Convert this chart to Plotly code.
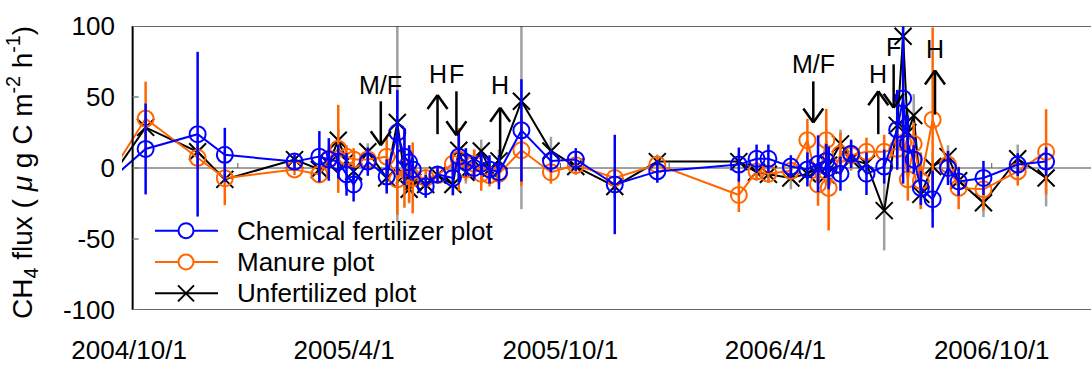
import plotly.graph_objects as go
from datetime import date, timedelta

# ---------------- data ----------------
dates = ["2004-09-17", "2004-10-15", "2004-11-28", "2004-12-21", "2005-02-18", "2005-03-11",
         "2005-03-19", "2005-03-27", "2005-04-03", "2005-04-09", "2005-04-21", "2005-05-07",
         "2005-05-16", "2005-05-22", "2005-05-26", "2005-05-29", "2005-06-09", "2005-06-19",
         "2005-07-02", "2005-07-07", "2005-07-13", "2005-07-20", "2005-07-26", "2005-08-02",
         "2005-08-10", "2005-08-29", "2005-09-23", "2005-10-14", "2005-11-16", "2005-12-22",
         "2006-03-01", "2006-03-16", "2006-03-26", "2006-04-14", "2006-04-28", "2006-05-07",
         "2006-05-14", "2006-05-16", "2006-05-26", "2006-06-04", "2006-06-17", "2006-07-02",
         "2006-07-13", "2006-07-18", "2006-07-22", "2006-07-27", "2006-08-02", "2006-08-12",
         "2006-08-25", "2006-09-03", "2006-09-24", "2006-10-23", "2006-11-16"]

chem = [-7, 13.4, 23.8, 9.3, 4.5, 8, 6, 4.5, -4.5, -11.6, 4.5, -6,
        25, 8, 4, -1, -13, -4.5, -7, 8, 4, 0, 3, -1,
        -3, 26.5, 5, 6, -11.6, -2.4, 2.4, 6.5, 6.5, 1, -1, 3,
        5, 0, -4, 10, -4, 1, 27, 49, 17, 6, -14, -22,
        0, -9.5, -7, 2.4, 4.5]
chem_err = [5, 32, 58, 19, 5, 18, 15, 12, 15, 12, 10, 12,
            30, 20, 12, 8, 8, 6, 12, 18, 10, 8, 8, 10,
            12, 36, 8, 8, 35, 8, 12, 10, 10, 8, 12, 20,
            12, 15, 12, 10, 15, 12, 28, 60, 20, 10, 12, 20,
            12, 10, 12, 8, 10]

manure = [-2, 34.8, 7.2, -7.2, -1, -4.5, 6.5, 13.5, 8, 6, 6, 8,
          -8, 0, -4, -7, -7, -5, 3, 6, -1, 3, -4, -5,
          -4, 12.5, -3, 2, -7, 2.4, -19, -2.4, -4, -2, 19.6, -11.6,
          19.6, -14, 10, 9, 11.4, 11.4, 13.5, 18, -8, 17, -9, 34,
          2.4, -14, -15, -2.4, 11.4]
manure_err = [4, 26, 8, 19, 4, 5, 8, 31, 8, 8, 6, 14,
              25, 28, 20, 25, 6, 4, 8, 22, 8, 10, 12, 8,
              8, 25, 8, 6, 5, 5, 12, 6, 6, 6, 15, 15,
              22, 30, 15, 10, 10, 12, 15, 20, 15, 15, 20, 65,
              10, 15, 15, 10, 30]

unfert = [-5, 28.6, 11.4, -8, 5.9, -1, 3, 19.6, 5, -2.4, 11.4, -7,
          32, -5, -15, -10, -11.6, -5, -11.6, 12.5, -3, 5, 12, -1,
          5, 47, 12, 1, -13, 4.5, 4.5, -3, -4.5, -7, -4, 0,
          -5, 2, 17, 6, 3, -30, 30, 92.8, 25, 37, -18.6, 1,
          8, -9, -24.5, 6.5, -7]
unfert_err = [4, 10, 8, 5, 4, 5, 5, 8, 6, 6, 6, 8,
              70, 10, 10, 8, 5, 4, 8, 10, 8, 8, 8, 8,
              8, 76, 10, 6, 8, 5, 6, 6, 6, 8, 6, 6,
              6, 6, 10, 8, 8, 28, 20, 20, 15, 15, 10, 10,
              8, 8, 10, 10, 20]

series_names = ["Chemical fertilizer plot", "Manure plot", "Unfertilized plot"]

# field operations (M = manure, F = fertilizer, H = harvest)
event_labels = ["M/F", "H", "F", "H", "M/F", "H", "F", "H"]
event_dates = ["2005-05-02", "2005-06-19", "2005-07-05", "2005-08-11",
               "2006-05-03", "2006-06-27", "2006-07-10", "2006-08-14"]
event_dir = ["down", "up", "down", "up", "down", "up", "down", "up"]
event_top = [47, 51.4, 54, 42.4, 61, 54, 73, 68.6]
event_bottom = [16, 23.8, 23, 8, 32, 23.8, 42.4, 37.6]
event_text_y = [58.3, 66.5, 66.5, 58.3, 73.4, 66.5, 85, 83.8]

xtick_vals = ["2004-10-01", "2005-04-01", "2005-10-01", "2006-04-01", "2006-10-01"]
xtick_text = ["2004/10/1", "2005/4/1", "2005/10/1", "2006/4/1", "2006/10/1"]
ytick_vals = [-100, -50, 0, 50, 100]
ytick_text = ["-100", "-50", "0", "50", "100"]
zero_tick_dates = ["2005-01-01", "2005-04-01", "2005-07-01", "2005-10-01", "2006-01-01",
                   "2006-04-01", "2006-07-01", "2006-10-01"]

# ---------------- styling ----------------
FONT = "Liberation Sans, Arial, sans-serif"
BLUE = "#0000FF"
ORANGE = "#FF6600"
BLACK = "#000000"
GREY = "#A0A0A0"

W, H = 1091, 365
L, R, T, B = 122, 0, 26, 49
plot_w = W - L - R
plot_h = H - T - B


def px_x(px):
    return (px - L) / plot_w


def px_y(py):
    return (H - B - py) / plot_h


# x range: date axis scaled ~1.182 px/day with 2004/10/1 at 128 px
base = date(2004, 10, 1)
ppd = 1.1822
x_start = base + timedelta(days=(L - 128) / ppd)
x_end = base + timedelta(days=(W - R - 128) / ppd)
axis_x = base + timedelta(days=(132 - 128) / ppd)   # where the y axis line sits
axis_xs = axis_x.isoformat()

fig = go.Figure()

styles = {
    series_names[0]: dict(color=BLUE, ecolor=BLUE, symbol="circle-open", size=16),
    series_names[1]: dict(color=ORANGE, ecolor=ORANGE, symbol="circle-open", size=16),
    series_names[2]: dict(color=BLACK, ecolor=GREY, symbol="x-thin-open", size=17),
}
series_vals = {series_names[0]: (chem, chem_err),
               series_names[1]: (manure, manure_err),
               series_names[2]: (unfert, unfert_err)}

for name in [series_names[2], series_names[1], series_names[0]]:
    st = styles[name]
    vals, errs = series_vals[name]
    fig.add_trace(go.Scatter(
        x=dates, y=vals, name=name, mode="lines+markers",
        line=dict(color=st["color"], width=2),
        marker=dict(symbol=st["symbol"], size=st["size"], color=st["color"],
                    line=dict(width=2, color=st["color"])),
        error_y=dict(type="data", array=errs, color=st["ecolor"], thickness=2.5, width=0),
        showlegend=False,
    ))

shapes = []
# y-axis line
shapes.append(dict(type="line", xref="x", yref="y", x0=axis_xs, x1=axis_xs, y0=-100, y1=100,
                   line=dict(color="black", width=2)))
# top border
shapes.append(dict(type="line", xref="x", yref="y", x0=axis_xs, x1=x_end.isoformat(), y0=100, y1=100,
                   line=dict(color="#333333", width=1.5)))
# bottom axis
shapes.append(dict(type="line", xref="x", yref="y", x0=axis_xs, x1=x_end.isoformat(), y0=-100, y1=-100,
                   line=dict(color="#666666", width=2)))
# zero line
shapes.append(dict(type="line", xref="x", yref="y", x0=axis_xs, x1=x_end.isoformat(), y0=0, y1=0,
                   line=dict(color="#808080", width=1.5), layer="below"))
# y ticks (inside)
for v in ytick_vals:
    shapes.append(dict(type="line", xref="x", yref="y", xsizemode="pixel", xanchor=axis_xs,
                       x0=0, x1=6, y0=v, y1=v, line=dict(color="#808080", width=1.5)))
# small ticks on the zero line
for d in zero_tick_dates:
    shapes.append(dict(type="line", xref="x", yref="y", ysizemode="pixel", yanchor=0,
                       x0=d, x1=d, y0=0, y1=5, line=dict(color="#555555", width=1), layer="below"))

annotations = []
# event arrows
for lab, d, direc, top, bot, ty in zip(event_labels, event_dates, event_dir, event_top, event_bottom, event_text_y):
    shapes.append(dict(type="line", xref="x", yref="y", x0=d, x1=d, y0=bot, y1=top,
                       line=dict(color="black", width=2.5)))
    tip = bot if direc == "down" else top
    sgn = 1 if direc == "down" else -1
    for dx in (-10, 10):
        shapes.append(dict(type="line", xref="x", yref="y", xsizemode="pixel", xanchor=d,
                           ysizemode="pixel", yanchor=tip, x0=0, x1=dx, y0=0, y1=sgn * 14,
                           line=dict(color="black", width=2.5)))
    annotations.append(dict(x=d, y=ty, xref="x", yref="y", text=lab, showarrow=False,
                            font=dict(family=FONT, size=25, color="black"),
                            xanchor="center", yanchor="middle"))

# legend (drawn by hand: long sample line, marker in the middle)
legend_rows = [235, 267, 299]
for name, row in zip(series_names, legend_rows):
    st = styles[name]
    yp = px_y(row)
    shapes.append(dict(type="line", xref="paper", yref="paper", x0=px_x(155), x1=px_x(218),
                       y0=yp, y1=yp, line=dict(color=st["color"], width=2)))
    cx = px_x(186)
    if st["symbol"] == "circle-open":
        shapes.append(dict(type="circle", xref="paper", yref="paper", xsizemode="pixel", ysizemode="pixel",
                           xanchor=cx, yanchor=yp, x0=-7.5, x1=7.5, y0=-7.5, y1=7.5,
                           fillcolor="white", line=dict(color=st["color"], width=2)))
    else:
        for sy in (-1, 1):
            shapes.append(dict(type="line", xref="paper", yref="paper", xsizemode="pixel", ysizemode="pixel",
                               xanchor=cx, yanchor=yp, x0=-8, x1=8, y0=-8 * sy, y1=8 * sy,
                               line=dict(color=st["color"], width=2)))
    annotations.append(dict(x=px_x(235), y=yp, xref="paper", yref="paper", text=name, showarrow=False,
                            xanchor="left", yanchor="middle",
                            font=dict(family=FONT, size=26, color="black")))

# y-axis title
annotations.append(dict(x=px_x(22), y=px_y(176), xref="paper", yref="paper",
                        text="CH<sub>4</sub> flux ( <i>μ</i> g C m<sup>-2</sup> h<sup>-1</sup>)",
                        textangle=-90, showarrow=False, xanchor="center", yanchor="middle",
                        font=dict(family=FONT, size=28, color="black")))

fig.update_layout(
    width=W, height=H,
    margin=dict(l=L, r=R, t=T, b=B, pad=0),
    paper_bgcolor="white", plot_bgcolor="white",
    font=dict(family=FONT, size=26, color="black"),
    shapes=shapes, annotations=annotations,
    showlegend=False,
    xaxis=dict(type="date", range=[x_start.isoformat(), x_end.isoformat()],
               tickvals=xtick_vals, ticktext=xtick_text, showgrid=False, zeroline=False,
               showline=False, ticks="", ticklabelstandoff=22,
               tickfont=dict(family=FONT, size=26, color="black")),
    yaxis=dict(range=[-100, 100], tickvals=ytick_vals, ticktext=ytick_text, showgrid=False,
               zeroline=False, showline=False, ticks="", ticklabelstandoff=6,
               tickfont=dict(family=FONT, size=26, color="black")),
)

fig.write_html("out.html")
